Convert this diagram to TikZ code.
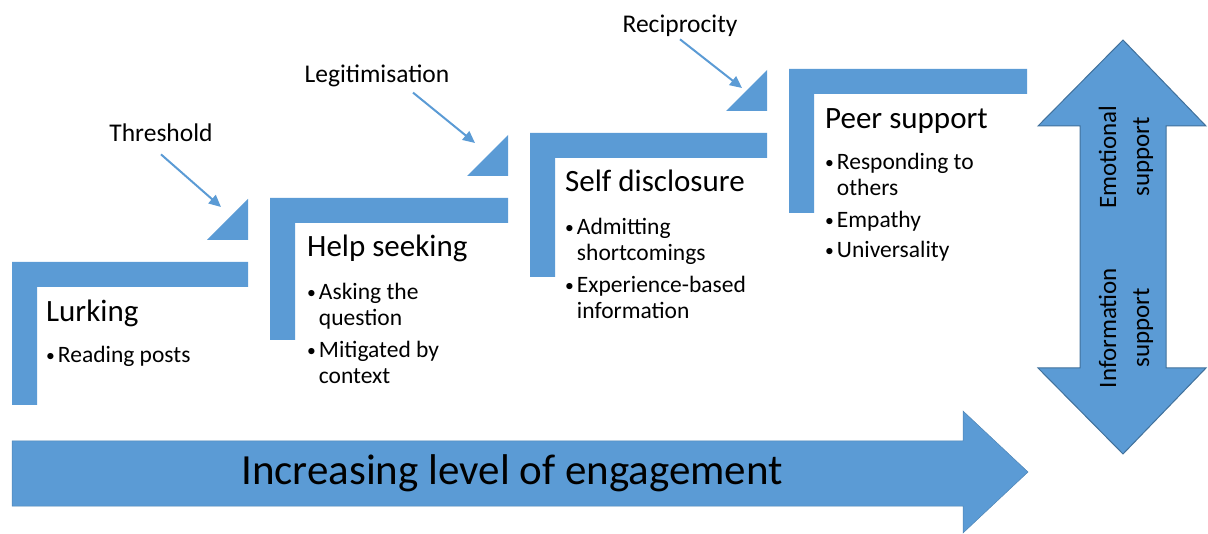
\documentclass[tikz,border=0pt]{standalone}
\usepackage{fontspec}
\setmainfont{Carlito}
\usetikzlibrary{arrows.meta,positioning}
\definecolor{stepblue}{HTML}{5B9BD5}
\definecolor{edgeblue}{HTML}{41719C}
\tikzset{
	bar/.style={fill=stepblue},
	pointer/.style={stepblue,line width=2pt,-{Triangle[length=12pt,width=11pt]}},
	lbl/.style={font=\fontsize{25.5}{30}\selectfont,inner sep=2pt,anchor=base},
	head/.style={font=\fontsize{31}{36}\selectfont,anchor=base west,inner sep=0pt},
	items/.style={font=\fontsize{23.5}{26}\selectfont,anchor=base west,inner sep=0pt},
	side/.style={font=\fontsize{25}{33}\selectfont,rotate=90,align=center,inner sep=0pt},
}
\newcommand{\bul}{\raisebox{0.08em}{\scalebox{0.75}{\textbullet}}}
\begin{document}
\begin{tikzpicture}[x=1pt,y=-1pt,line join=miter]
	\useasboundingbox (0,0) rectangle (1208,534);
	\path
	(221,207) coordinate (t1)
	(475,143) coordinate (t2)
	(742,88) coordinate (t3)
	;
	% steps (L bars) and the little wedges
	\foreach \x/\y/\r/\b in {12/262/248/405,270/198/508/340,530/133/767/277,789/69/1027/213}
	\fill[bar] (\x,\b)--(\x,\y)--(\r,\y)--(\r,\y+25)--(\x+25,\y+25)--(\x+25,\b)--cycle;
	\foreach \r/\t in {248/199,508/135,767/70}
	\fill[bar] (\r-41,\t+41)--(\r,\t+41)--(\r,\t)--cycle;
	% headings and bullets
	\node[head] (h1) at (46,322) {Lurking};
	\node[head] (h2) at (307,257) {Help seeking};
	\node[head] (h3) at (565,192) {Self disclosure};
	\node[head] (h4) at (825,129) {Peer support};
	\node[items] (i1) at ([xshift=0pt,yshift=-41pt]h1.base west)
	{\begin{tabular}[t]{@{}l@{\hspace{3pt}}l@{}}\bul & Reading posts\end{tabular}};
	\node[items] (i2) at ([xshift=0pt,yshift=-43pt]h2.base west)
	{\begin{tabular}[t]{@{}l@{\hspace{3pt}}l@{}}\bul & Asking the\\ & question\\[6pt] \bul & Mitigated by\\ & context\end{tabular}};
	\node[items] (i3) at ([xshift=0pt,yshift=-43pt]h3.base west)
	{\begin{tabular}[t]{@{}l@{\hspace{3pt}}l@{}}\bul & Admitting\\ & shortcomings\\[6pt] \bul & Experience-based\\ & information\end{tabular}};
	\node[items] (i4) at ([xshift=0pt,yshift=-41pt]h4.base west)
	{\begin{tabular}[t]{@{}l@{\hspace{3pt}}l@{}}\bul & Responding to\\ & others\\[6pt] \bul & Empathy\\[4pt] \bul & Universality\end{tabular}};
	% labels with pointers
	\node[lbl] (thr) at (161,142) {Threshold};
	\node[lbl] (leg) at (377,83) {Legitimisation};
	\node[lbl] (rec) at (680,33) {Reciprocity};
	\draw[pointer] ([yshift=-10pt]thr.south)--(t1);
	\draw[pointer] ([xshift=36pt,yshift=-3pt]leg.south)--(t2);
	\draw[pointer] (rec.south)--(t3);
	% two-way arrow
	\filldraw[fill=stepblue,draw=edgeblue,line width=1pt] (1123,40)--(1206,126)--(1166,126)--(1166,368)--(1206,368)--(1123,454)
	--(1038,368)--(1080,368)--(1080,126)--(1038,126)--cycle;
	\node[side] (emo) at (1126,157) {Emotional\\support};
	\node[side] (inf) at (1126,328) {Information\\support};
	% engagement arrow
	\filldraw[fill=stepblue,draw=stepblue!85!black,line width=0.5pt] (12,441)--(963,441)--(963,411)--(1028,472)--(963,533)--(963,506)--(12,506)--cycle;
	\node[font=\fontsize{43}{48}\selectfont] (eng) at (512,473) {Increasing level of engagement};
\end{tikzpicture}
\end{document}
